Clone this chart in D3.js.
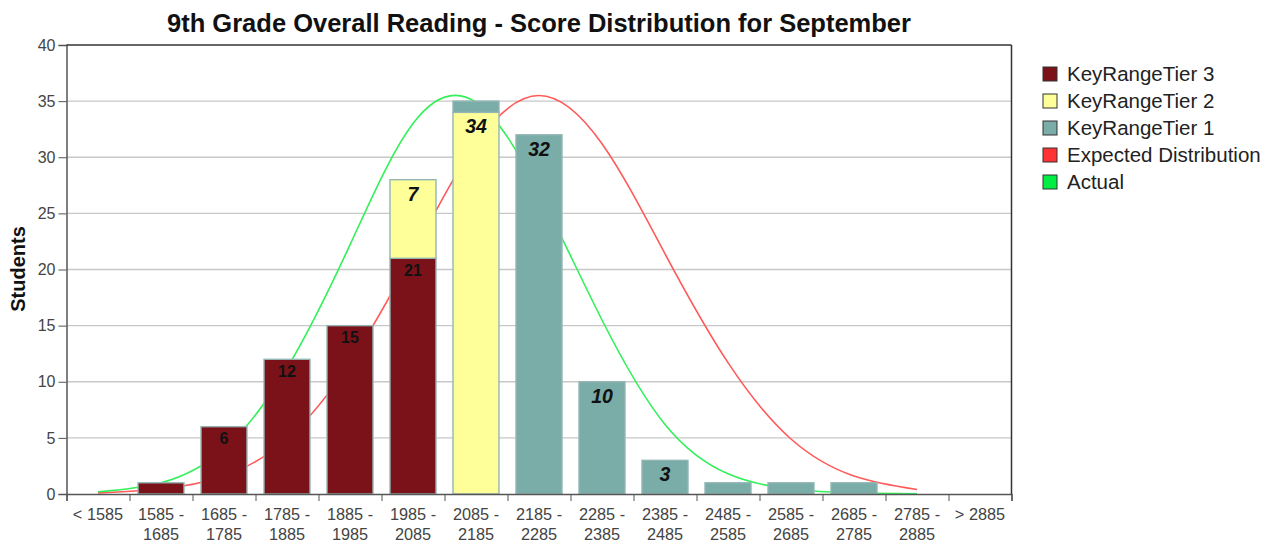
<!DOCTYPE html>
<html><head><meta charset="utf-8">
<script src="https://cdn.jsdelivr.net/npm/d3@7"></script>
<style>body{margin:0;background:#fff}svg{display:block}</style>
</head><body>
<svg id="chart" width="1266" height="542"></svg>
<script>
const categories = ["< 1585","1585 - 1685","1685 - 1785","1785 - 1885","1885 - 1985","1985 - 2085","2085 - 2185","2185 - 2285","2285 - 2385","2385 - 2485","2485 - 2585","2585 - 2685","2685 - 2785","2785 - 2885","> 2885"];
const tier3 = [0,1,6,12,15,21,0,0,0,0,0,0,0,0,0];
const tier2 = [0,0,0,0,0,7,34,0,0,0,0,0,0,0,0];
const tier1 = [0,0,0,0,0,0,1,32,10,3,1,1,1,0,0];
// curve values read at category centres (first 14 categories)
const expected = [0.1,0.45,1.6,4.9,11.7,21.4,31.2,35.5,31.2,21.4,11.7,4.9,1.6,0.4];
const actual = [0.2,1.0,4.0,11.2,22.2,33.0,34.9,26.9,15.5,6.2,1.8,0.45,0.1,0.02];
const yTicks = [0,5,10,15,20,25,30,35,40];
const seriesNames = ["KeyRangeTier 3","KeyRangeTier 2","KeyRangeTier 1","Expected Distribution","Actual"];
const seriesColors = ["#7b1219","#ffff99","#7aaca8","#ff3333","#00ee44"];

const svg = d3.select("#chart");
svg.append("rect").attr("width",1266).attr("height",542).attr("fill","#fff");
const L = 66.5, R = 1011.5, T = 45, B = 494;
const x = d3.scaleBand().domain(categories).range([L,R]).paddingInner(0.27).paddingOuter(0.135);
const xLin = d3.scaleLinear().domain([0,categories.length]).range([L,R]);
const y = d3.scaleLinear().domain([0,40]).range([B,T]);
const font = "'Liberation Sans', Arial, sans-serif";

// title
svg.append("text").attr("x",(L+R)/2).attr("y",32).attr("text-anchor","middle")
  .attr("font-family",font).attr("font-weight","bold").attr("font-size",25.5).attr("fill","#111")
  .text("9th Grade Overall Reading - Score Distribution for September");

// grid
svg.append("g").selectAll("line").data(yTicks.filter(d=>d>0&&d<40)).join("line")
  .attr("x1",L).attr("x2",R).attr("y1",d=>y(d)).attr("y2",d=>y(d))
  .attr("stroke","#c8c8c8").attr("stroke-width",1.4);

// curves (behind bars)
const cx = i => x(categories[i]) + x.bandwidth()/2;
const line = d3.line().x((d,i)=>cx(i)).y(d=>y(d)).curve(d3.curveNatural);
svg.append("path").attr("d",line(expected)).attr("fill","none").attr("stroke","#ff5a5a").attr("stroke-width",1.6);
svg.append("path").attr("d",line(actual)).attr("fill","none").attr("stroke","#33f05a").attr("stroke-width",1.6);

// bars
const tiers = [tier3,tier2,tier1];
const segs = [];
categories.forEach((c,i)=>{
  let base = 0;
  tiers.forEach((arr,t)=>{
    const v = arr[i];
    if (v>0) segs.push({c, t, v, y0:base, y1:base+v});
    base += v;
  });
});
svg.append("g").selectAll("rect").data(segs).join("rect")
  .attr("x",d=>x(d.c)).attr("width",x.bandwidth())
  .attr("y",d=>y(d.y1)).attr("height",d=>y(d.y0)-y(d.y1))
  .attr("fill",d=>seriesColors[d.t]).attr("stroke","#93b6b4").attr("stroke-width",1.4);

// bar labels
svg.append("g").selectAll("text").data(segs.filter(d=>d.v>=2)).join("text")
  .attr("x",d=>x(d.c)+x.bandwidth()/2)
  .attr("y",d=>y(d.y1)+(d.t===0?17.5:21))
  .attr("text-anchor","middle").attr("font-family",font).attr("font-weight","bold")
  .attr("font-style",d=>d.t===0?"normal":"italic")
  .attr("font-size",d=>d.t===0?16:19.5).attr("fill","#111")
  .text(d=>d.v);

// y axis
const yAxis = svg.append("g").attr("transform",`translate(${L},0)`)
  .call(d3.axisLeft(y).tickValues(yTicks).tickSize(8).tickPadding(3));
yAxis.select(".domain").attr("stroke","#555").attr("stroke-width",1.5);
yAxis.selectAll(".tick line").attr("stroke","#555");
yAxis.selectAll(".tick text").attr("font-family",font).attr("font-size",16).attr("fill","#444");

// x axis
const xAxis = svg.append("g").attr("transform",`translate(0,${B})`)
  .call(d3.axisBottom(xLin).tickValues(d3.range(categories.length+1)).tickSize(7).tickFormat(""));
xAxis.select(".domain").attr("stroke","#555").attr("stroke-width",1.5);
xAxis.selectAll(".tick line").attr("stroke","#555");
const xl = svg.append("g").selectAll("text").data(categories).join("text")
  .attr("text-anchor","middle").attr("font-family",font).attr("font-size",16.3).attr("fill","#444");
xl.each(function(d){
  const parts = d.includes(" - ") ? [d.split(" - ")[0]+" -", d.split(" - ")[1]] : [d];
  const t = d3.select(this);
  parts.forEach((p,k)=>t.append("tspan").attr("x",x(d)+x.bandwidth()/2).attr("y",520+k*20).text(p));
});

// plot border (top, right)
svg.append("line").attr("x1",L).attr("x2",R).attr("y1",T).attr("y2",T).attr("stroke","#333").attr("stroke-width",1.5);
svg.append("line").attr("x1",R).attr("x2",R).attr("y1",T).attr("y2",B).attr("stroke","#333").attr("stroke-width",1.5);

// y label
svg.append("text").attr("transform","translate(25,269) rotate(-90)").attr("text-anchor","middle")
  .attr("font-family",font).attr("font-weight","bold").attr("font-size",20).attr("fill","#111").text("Students");

// legend
const lg = svg.append("g").selectAll("g").data(seriesNames).join("g")
  .attr("transform",(d,i)=>`translate(1043,${74+i*27})`);
lg.append("rect").attr("x",0).attr("y",-7).attr("width",14).attr("height",14)
  .attr("fill",(d,i)=>seriesColors[i]).attr("stroke","#333").attr("stroke-width",1);
lg.append("text").attr("x",24).attr("y",7).attr("font-family",font).attr("font-size",20.5).attr("fill","#222").text(d=>d);
</script>
</body></html>
